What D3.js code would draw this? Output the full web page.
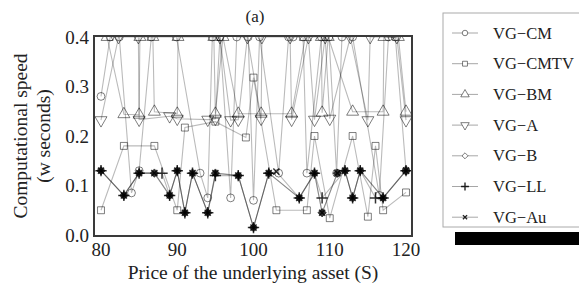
<!DOCTYPE html>
<html>
<head>
<meta charset="utf-8">
<script src="https://cdn.jsdelivr.net/npm/d3@7"></script>
<style>
body { margin: 0; background: #fff; }
text { font-family: "Liberation Serif", "DejaVu Serif", serif; fill: #222; }
</style>
</head>
<body>
<div class="chart"></div>
<script>
// series values, [S, seconds]; points above 0.4 sit on the top frame
const vgCM = [[80,.28],[81.2,.4],[82.4,.4],[84,.085],[85,.13],[86.6,.4],[89.9,.4],[93,.125],[94,.075],[94.6,.4],[95.6,.4],[97,.075],[97.8,.4],[99.3,.4],[100,.07],[100.8,.4],[103.3,.125],[104.6,.4],[105.2,.4],[106.5,.4],[107,.125],[108.9,.4],[109.9,.4],[110.9,.125],[111.6,.4],[113,.4],[116.5,.08],[117.7,.4],[118.6,.4],[120,.13]];
const vgCMTV = [[80,.05],[83,.18],[87,.18],[90,.05],[91,.217],[95,.229],[99,.197],[100,.318],[103,.05],[107,.05],[108,.2],[110,.034],[113,.2],[115,.037],[116,.18],[117,.05],[120,.086]];
const vgBM = [[80.8,.4],[83,.244],[85,.243],[85.1,.4],[86.8,.4],[87,.249],[90,.245],[90.1,.4],[94.8,.4],[95,.245],[96,.4],[98,.245],[101,.245],[105,.245],[106.8,.4],[108.9,.4],[109,.247],[109.8,.4],[113,.249],[117,.249],[117.1,.4],[119,.4],[120,.249]];
const vgA = [[80,.232],[82.3,.4],[84.9,.4],[85,.233],[89,.24],[90,.235],[94,.233],[95,.235],[95.6,.4],[97,.232],[98,.233],[99.2,.4],[101,.235],[101.1,.4],[104.8,.4],[105,.233],[107.2,.4],[108,.233],[109.4,.4],[110,.235],[112.7,.4],[115,.232],[115.3,.4],[118.8,.4],[120,.232]];
const vgB = [[80,.13],[83,.08],[85,.125],[87,.125],[89,.08],[90,.13],[91,.045],[92,.125],[94,.045],[95,.125],[98,.12],[100,.015],[102,.125],[106,.075],[108,.125],[109,.045],[111,.125],[112,.13],[113,.075],[114,.13],[117,.075],[120,.13]];
const vgLL = [[80,.13],[83,.08],[85,.125],[88,.125],[89,.08],[90,.13],[91,.045],[92,.125],[94,.045],[95,.12],[98,.12],[100,.015],[102,.125],[106,.075],[108,.125],[109,.075],[112,.13],[113,.075],[114,.13],[116,.075],[117,.075],[120,.13]];
const vgAu = [[80,.13],[83,.08],[85,.125],[87,.125],[89,.08],[90,.13],[91,.045],[92,.125],[94,.045],[95,.125],[98,.12],[100,.015],[102,.125],[103,.128],[106,.075],[108,.125],[109,.045],[111,.125],[112,.13],[113,.075],[114,.13],[117,.075],[120,.13]];

const names = ["VG\u2212CM", "VG\u2212CMTV", "VG\u2212BM", "VG\u2212A", "VG\u2212B", "VG\u2212LL", "VG\u2212Au"];
const xTicks = [80, 90, 100, 110, 120];
const yTicks = [0.0, 0.1, 0.2, 0.3, 0.4];

const series = [
	{name: names[0], data: vgCM, sym: d3.symbolCircle, size: 48, rot: 0, fill: "none"},
	{name: names[1], data: vgCMTV, sym: d3.symbolSquare, size: 48, rot: 0, fill: "none"},
	{name: names[2], data: vgBM, sym: d3.symbolTriangle, size: 62, rot: 0, fill: "none"},
	{name: names[3], data: vgA, sym: d3.symbolTriangle, size: 62, rot: 180, fill: "none"},
	{name: names[4], data: vgB, sym: d3.symbolDiamond2, size: 46, rot: 0, fill: "#111"},
	{name: names[5], data: vgLL, sym: d3.symbolPlus, size: 44, rot: 0, fill: "none"},
	{name: names[6], data: vgAu, sym: d3.symbolX, size: 26, rot: 0, fill: "none"}
];

const width = 579;
const height = 289;
const frame = {left: 94, right: 412, top: 36, bottom: 236};

const svg = d3.select('.chart')
	.append('svg')
	.attr('width', width)
	.attr('height', height)

const x = d3.scaleLinear().domain([80, 120]).range([101, 406]);
const y = d3.scaleLinear().domain([0, 0.4]).range([235, 37]);

svg.append("clipPath").attr("id", "plotclip")
	.append("rect")
	.attr("x", frame.left).attr("y", frame.top)
	.attr("width", frame.right - frame.left)
	.attr("height", frame.bottom - frame.top)

const plot = svg.append("g").attr("clip-path", "url(#plotclip)");

const line = d3.line().x(d => x(d[0])).y(d => y(d[1]));

// lines first, then markers
series.forEach(function(s){
	plot.append("path")
		.datum(s.data)
		.attr("d", line)
		.attr("fill", "none")
		.attr("stroke", "#000")
		.attr("stroke-opacity", 0.27)
		.attr("stroke-width", 1.1)
});

series.forEach(function(s){
	const stroky = s.sym === d3.symbolPlus || s.sym === d3.symbolX;
	plot.selectAll(".m" + s.name)
		.data(s.data)
		.enter()
		.append("path")
		.attr("d", d3.symbol().type(s.sym).size(s.size))
		.attr("transform", d => "translate(" + x(d[0]) + "," + y(d[1]) + ") rotate(" + s.rot + ")")
		.attr("fill", s.fill)
		.attr("fill-opacity", 0.85)
		.attr("stroke", "#000")
		.attr("stroke-opacity", stroky ? 0.8 : 0.5)
		.attr("stroke-width", stroky ? 1.5 : 1)
});

// frame
svg.append("rect")
	.attr("x", frame.left).attr("y", frame.top)
	.attr("width", frame.right - frame.left)
	.attr("height", frame.bottom - frame.top)
	.attr("fill", "none")
	.attr("stroke", "#3a3a3a")
	.attr("stroke-width", 2)

// tick labels
svg.selectAll(".ytick")
	.data(yTicks)
	.enter()
	.append("text")
	.attr("class", "ytick")
	.text(d => d.toFixed(1))
	.attr("x", 89)
	.attr("y", d => y(d) + 6.5)
	.attr("text-anchor", "end")
	.attr("font-size", 19)

svg.selectAll(".xtick")
	.data(xTicks)
	.enter()
	.append("text")
	.attr("class", "xtick")
	.text(d => d)
	.attr("x", d => x(d))
	.attr("y", 256)
	.attr("text-anchor", "middle")
	.attr("font-size", 19)

// titles
svg.append("text")
	.text("(a)")
	.attr("x", 255).attr("y", 22)
	.attr("text-anchor", "middle")
	.attr("font-size", 17)

svg.append("text")
	.text("Price of the underlying asset (S)")
	.attr("x", 253).attr("y", 279)
	.attr("text-anchor", "middle")
	.attr("font-size", 19.5)

svg.append("text")
	.text("Computational speed")
	.attr("transform", "translate(27,136) rotate(-90)")
	.attr("text-anchor", "middle")
	.attr("font-size", 19.5)

svg.append("text")
	.text("(w seconds)")
	.attr("transform", "translate(50,136) rotate(-90)")
	.attr("text-anchor", "middle")
	.attr("font-size", 19.5)

// legend
svg.append("rect")
	.attr("x", 455).attr("y", 232)
	.attr("width", 130).attr("height", 13)
	.attr("fill", "#000")

svg.append("rect")
	.attr("x", 443).attr("y", 13)
	.attr("width", 150).attr("height", 214)
	.attr("fill", "#fff")
	.attr("stroke", "#aaa")
	.attr("stroke-width", 1)

const legend = svg.selectAll(".legend")
	.data(series)
	.enter()
	.append("g")
	.attr("class", "legend")
	.attr("transform", (d, i) => "translate(0," + (33 + i * 30.7) + ")")

legend.append("line")
	.attr("x1", 452).attr("x2", 478)
	.attr("y1", 0).attr("y2", 0)
	.attr("stroke", "#000")
	.attr("stroke-opacity", 0.35)

legend.append("path")
	.attr("d", d => d3.symbol().type(d.sym).size(d.size * 0.5)())
	.attr("transform", d => "translate(465,0) rotate(" + d.rot + ")")
	.attr("fill", "#fff")
	.attr("stroke", "#000")
	.attr("stroke-opacity", d => (d.sym === d3.symbolPlus || d.sym === d3.symbolX) ? 0.85 : 0.5)
	.attr("stroke-width", d => (d.sym === d3.symbolPlus || d.sym === d3.symbolX) ? 1.4 : 1)

legend.append("text")
	.text(d => d.name)
	.attr("x", 493)
	.attr("y", 5.5)
	.attr("font-size", 16.5)
</script>
</body>
</html>
